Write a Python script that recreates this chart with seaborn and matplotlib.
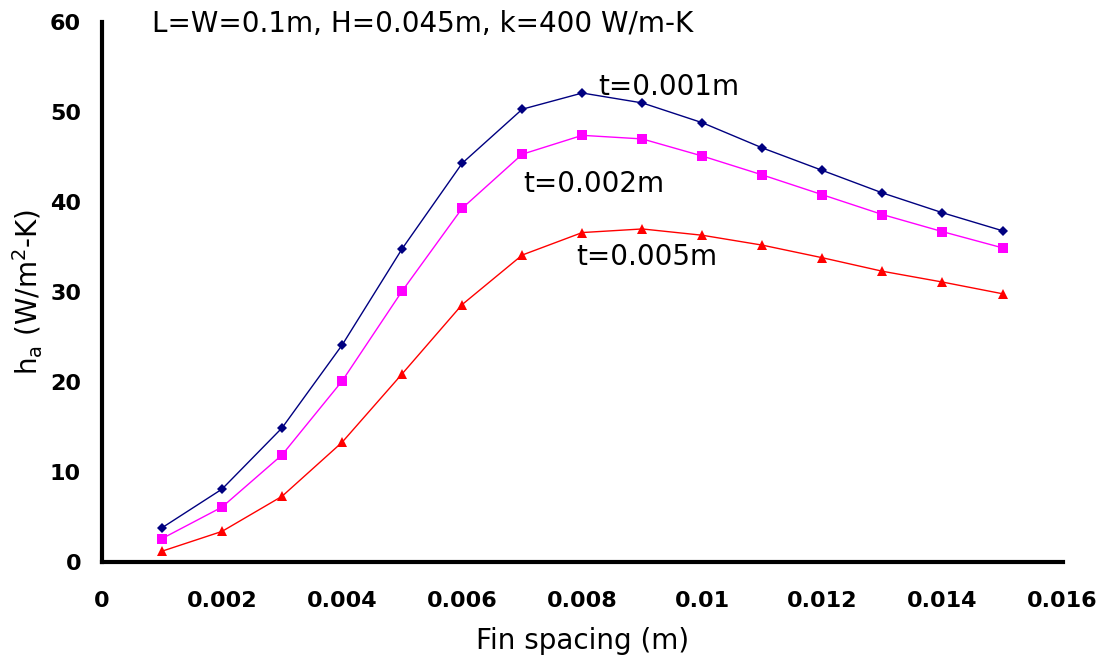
import numpy as np
import pandas as pd
import seaborn as sb
import matplotlib.pyplot as plt

# fin spacing (m)
spacing = [0.001, 0.002, 0.003, 0.004, 0.005, 0.006, 0.007, 0.008,
           0.009, 0.010, 0.011, 0.012, 0.013, 0.014, 0.015]
# average heat transfer coefficient for each fin thickness
h_t001 = [3.8, 8.1, 14.9, 24.1, 34.8, 44.3, 50.3, 52.1, 51.0, 48.8, 46.0, 43.5, 41.0, 38.8, 36.8]
h_t002 = [2.6, 6.1, 11.9, 20.1, 30.1, 39.3, 45.3, 47.4, 47.0, 45.1, 43.0, 40.8, 38.6, 36.7, 34.9]
h_t005 = [1.2, 3.4, 7.3, 13.3, 20.9, 28.6, 34.1, 36.6, 37.0, 36.3, 35.2, 33.8, 32.3, 31.1, 29.8]
series_names = ['t=0.001m', 't=0.002m', 't=0.005m']

xticks = [0, 0.002, 0.004, 0.006, 0.008, 0.01, 0.012, 0.014, 0.016]
xticklabels = ['0', '0.002', '0.004', '0.006', '0.008', '0.01', '0.012', '0.014', '0.016']
yticks = [0, 10, 20, 30, 40, 50, 60]

sb.set_style('white')
plt.rcParams['font.family'] = ['DejaVu Sans']
plt.rcParams['mathtext.default'] = 'regular'
plt.rcParams['text.color'] = 'black'
plt.rcParams['axes.labelcolor'] = 'black'

df = pd.DataFrame({'spacing': spacing, series_names[0]: h_t001,
                   series_names[1]: h_t002, series_names[2]: h_t005})
df = df.melt(id_vars='spacing', var_name='t', value_name='h')

fig = plt.figure(figsize=(11.08, 6.64), dpi=100)
ax = fig.add_axes([0.092, 0.1536, 0.867, 0.8134])

pal = {series_names[0]: '#000080', series_names[1]: '#ff00ff', series_names[2]: '#ff0000'}
mk = {series_names[0]: 'D', series_names[1]: 's', series_names[2]: '^'}
g = sb.lineplot(data=df, x='spacing', y='h', hue='t', style='t', palette=pal,
                markers=mk, dashes=False, linewidth=1, markersize=6.5,
                markeredgewidth=0, legend=False, ax=ax)
# diamonds a bit smaller like the original
for line in ax.get_lines():
    if line.get_marker() == 'D':
        line.set_markersize(5.5)

ax.set_xlim(0, 0.016)
ax.set_ylim(0, 60)
ax.set_xticks(xticks)
ax.set_xticklabels(xticklabels)
ax.set_yticks(yticks)
for lab in ax.get_xticklabels() + ax.get_yticklabels():
    lab.set_fontweight('bold')
    lab.set_fontsize(16)
    lab.set_color('black')

for s in ['top', 'right']:
    ax.spines[s].set_visible(False)
for s in ['left', 'bottom']:
    ax.spines[s].set_linewidth(3)
    ax.spines[s].set_color('black')
ax.tick_params(axis='both', direction='out', length=7, width=2.5, color='black')
ax.tick_params(axis='x', pad=14)
ax.tick_params(axis='y', pad=8)
ax.set_axisbelow(False)

ax.set_xlabel('Fin spacing (m)', fontsize=20)
ax.set_ylabel('h$_a$ (W/m$^2$-K)', fontsize=20)
ax.xaxis.label.set_va('center')
ax.yaxis.label.set_va('center')
ax.xaxis.set_label_coords(0.5, -0.146)
ax.yaxis.set_label_coords(-0.077, 0.5)

ax.text(0.00083, 58.9, 'L=W=0.1m, H=0.045m, k=400 W/m-K', fontsize=20, va='baseline', clip_on=False)
ax.text(0.00826, 51.9, series_names[0], fontsize=20, va='baseline')
ax.text(0.00702, 41.1, series_names[1], fontsize=20, va='baseline')
ax.text(0.0079, 33.0, series_names[2], fontsize=20, va='baseline')

plt.savefig('out.png', dpi=100)
